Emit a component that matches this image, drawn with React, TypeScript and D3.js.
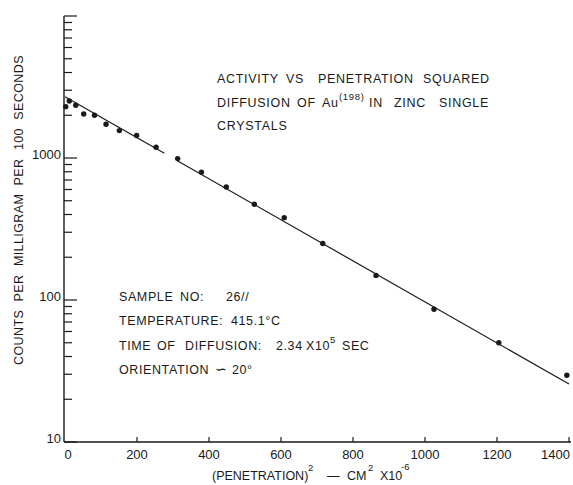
import React from 'react';
import * as d3 from 'd3';

// (penetration)^2 in cm^2 x 10^-6, and counts per mg per 100 s
const penetrationSq = [2, 12, 30, 52, 82, 114, 151, 199, 253, 313, 379, 448, 526, 609, 716, 864, 1025, 1205, 1394];
const counts = [2300, 2520, 2350, 2040, 2000, 1730, 1560, 1440, 1190, 990, 793, 625, 472, 380, 250, 149, 86, 50, 29.5];

// fitted line, drawn in two pieces with a gap
const fitX = [[0, 276], [312, 1400]];
const fitY = [[2700, 1079], [957, 25.6]];

const xTicks = [0, 200, 400, 600, 800, 1000, 1200, 1400];
const yTickLabels = ['10', '100', '1000'];

const FONT = '"Liberation Sans", Arial, sans-serif';
const INK = '#1a1a1a';

// word runs for the lettered notes: [text, x, baseline, fontSize]
type Word = [string, number, number, number?];
const titleWords: Word[] = [
    ['ACTIVITY', 217, 83], ['VS', 286, 83], ['PENETRATION', 318, 83], ['SQUARED', 423, 83],
    ['DIFFUSION', 217, 107], ['OF', 297, 107], ['Au', 322, 107], ['(198)', 339, 100, 9.5],
    ['IN', 369, 107], ['ZINC', 394, 107], ['SINGLE', 439, 107],
    ['CRYSTALS', 217, 130],
];
const infoWords: Word[] = [
    ['SAMPLE', 119, 301], ['NO:', 180, 301], ['26//', 226, 301],
    ['TEMPERATURE:', 119, 325], ['415.1°C', 231, 325],
    ['TIME', 119, 350], ['OF', 157, 350], ['DIFFUSION:', 185, 350],
    ['2.34', 276, 350], ['X10', 306, 350], ['5', 330, 343, 9.5], ['SEC', 342, 350],
    ['ORIENTATION', 119, 374], ['∽', 215, 374, 14], ['20°', 232, 374],
];
const xTitleWords: Word[] = [
    ['(PENETRATION)', 212, 480], ['2', 308, 471, 9.5], ['—', 327, 480],
    ['CM', 347, 480], ['2', 368, 471, 9.5], ['X10', 380, 480], ['-6', 401, 470, 9.5],
];

const Words = ({ words, size, spacing = 0 }: { words: Word[]; size: number; spacing?: number }) => (
    <g letterSpacing={spacing}>
        {words.map(([t, wx, wy, fs], i) => (
            <text key={i} x={wx} y={wy} fontSize={fs || size}>{t}</text>
        ))}
    </g>
);

export default function App() {
    const width = 573;
    const height = 485;

    const x = d3.scaleLinear().domain([0, 1400]).range([65, 569]);
    const y = d3.scaleLog().domain([10, 10000]).range([442, 16]);

    const line = d3
        .line<[number, number]>()
        .x((d) => x(d[0]))
        .y((d) => y(d[1]));

    const yTicks = y.ticks();
    const isMajor = (v: number) => Math.abs(Math.log10(v) - Math.round(Math.log10(v))) < 1e-9;

    return (
        <svg width={width} height={height} style={{ position: 'absolute', left: 0, top: 0, background: '#fff' }}
            fontFamily={FONT} fill={INK}>
            {/* axes */}
            <line x1={64} x2={64} y1={y(10000)} y2={y(10)} stroke={INK} strokeWidth={1.4} />
            <line x1={64} x2={571} y1={y(10)} y2={y(10)} stroke={INK} strokeWidth={1.4} />

            {yTicks.map((t) => (
                <line key={'yt' + t} x1={64} x2={isMajor(t) ? 77 : 72} y1={y(t)} y2={y(t)}
                    stroke={INK} strokeWidth={1.2} />
            ))}
            {yTickLabels.map((t) => (
                <text key={'yl' + t} x={61} y={y(+t) + 1} textAnchor="end" fontSize={13}>{t}</text>
            ))}

            {xTicks.slice(1).map((t) => (
                <line key={'xt' + t} x1={x(t)} x2={x(t)} y1={y(10)} y2={y(10) - 5}
                    stroke={INK} strokeWidth={1.2} />
            ))}
            {xTicks.map((t) => (
                <text key={'xl' + t} x={t === 1400 ? x(t) + 1 : x(t) + (t === 0 ? 3 : 0)} y={459}
                    textAnchor={t === 1400 ? 'end' : 'middle'} fontSize={13}>{t}</text>
            ))}

            {/* axis titles */}
            <text transform="translate(23,210) rotate(-90)" textAnchor="middle" fontSize={12.5}
                wordSpacing={4.5} letterSpacing={0.4}>COUNTS PER MILLIGRAM PER 100 SECONDS</text>
            <Words words={xTitleWords} size={12.5} />

            {/* fit line */}
            {fitX.map((seg, i) => (
                <path key={'fit' + i}
                    d={line(seg.map((v, j) => [v, fitY[i][j]] as [number, number])) || ''}
                    fill="none" stroke={INK} strokeWidth={1.2} />
            ))}

            {/* data points */}
            {penetrationSq.map((v, i) => (
                <circle key={'p' + i} cx={x(v)} cy={y(counts[i])} r={2.7} fill={INK} />
            ))}

            {/* notes */}
            <Words words={titleWords} size={12.5} spacing={0.7} />
            <Words words={infoWords} size={12.5} spacing={0.6} />
        </svg>
    );
}
